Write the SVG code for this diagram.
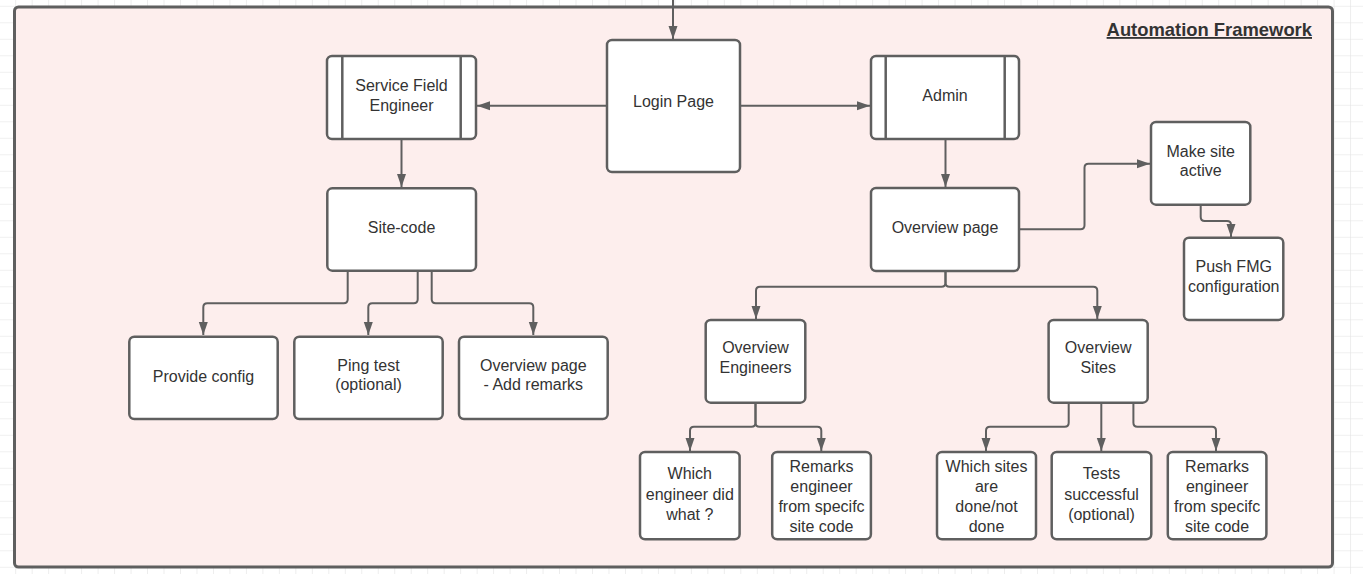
<svg xmlns="http://www.w3.org/2000/svg" width="1363" height="574" viewBox="0 0 1363 574">
<defs>
<pattern id="grid" patternUnits="userSpaceOnUse" x="15.2" y="5.8" width="16.48" height="16.5">
<path d="M0,0 V16.5 M0,0 H16.48" fill="none" stroke="#e2e2e2" stroke-width="1.2"/>
</pattern>
<marker id="ah" markerUnits="userSpaceOnUse" markerWidth="14" markerHeight="10" refX="13" refY="5" orient="auto">
<path d="M0,0.5 L13,5 L0,9.5 z" fill="#5f5f5f"/>
</marker>
<style>
.node{fill:#ffffff;stroke:#5f5f5f;stroke-width:2.5}
.bar{stroke:#5f5f5f;stroke-width:2.5}
.lbl{font-family:"Liberation Sans",Arial,sans-serif;font-size:16px;fill:#333333;text-anchor:middle}
.con{fill:none;stroke:#5f5f5f;stroke-width:2;marker-end:url(#ah)}
</style>
</defs>
<rect width="1363" height="574" fill="#ffffff"/>
<rect width="1363" height="574" fill="url(#grid)"/>
<g id="frame">
<rect x="14.5" y="7" width="1318" height="560" rx="4" fill="#fdeeed" stroke="#5f5f5f" stroke-width="3"/>
<text x="1312" y="36" font-family="'Liberation Sans',Arial,sans-serif" font-size="18.4" font-weight="bold" fill="#333333" text-anchor="end" text-decoration="underline">Automation Framework</text>
</g>
<g id="connectors">
<path class="con" d="M673,0 V39"/>
<path class="con" d="M607,105.7 H477"/>
<path class="con" d="M740,105.7 H870"/>
<path class="con" d="M401.5,139 V187"/>
<path class="con" d="M945.5,139 V187"/>
<path class="con" d="M1019,229.3 H1080.5 Q1084.5,229.3 1084.5,225.3 V167.7 Q1084.5,163.7 1088.5,163.7 H1150"/>
<path class="con" d="M1200.7,205 V217 Q1200.7,221 1204.7,221 H1227 Q1231,221 1231,225 V237"/>
<path class="con" d="M945.5,271 V282.7 Q945.5,286.7 941.5,286.7 H760 Q756,286.7 756,290.7 V319"/>
<path class="con" d="M945.5,271 V282.7 Q945.5,286.7 949.5,286.7 H1093.3 Q1097.3,286.7 1097.3,290.7 V319"/>
<path class="con" d="M347.7,271 V299.3 Q347.7,303.3 343.7,303.3 H207.3 Q203.3,303.3 203.3,307.3 V335"/>
<path class="con" d="M417.7,271 V299.3 Q417.7,303.3 413.7,303.3 H372.3 Q368.3,303.3 368.3,307.3 V335"/>
<path class="con" d="M431.7,271 V299.3 Q431.7,303.3 435.7,303.3 H529.3 Q533.3,303.3 533.3,307.3 V335"/>
<path class="con" d="M755.5,403 V422.7 Q755.5,426.7 751.5,426.7 H694 Q690,426.7 690,430.7 V451"/>
<path class="con" d="M755.5,403 V422.7 Q755.5,426.7 759.5,426.7 H817.3 Q821.3,426.7 821.3,430.7 V451"/>
<path class="con" d="M1068.7,403 V422.7 Q1068.7,426.7 1064.7,426.7 H990 Q986,426.7 986,430.7 V451"/>
<path class="con" d="M1101.3,403 V451"/>
<path class="con" d="M1133.4,403 V422.7 Q1133.4,426.7 1137.4,426.7 H1212 Q1216,426.7 1216,430.7 V451"/>
</g>
<g id="login">
<rect class="node" x="607" y="40" width="133" height="132" rx="5"/>
<text class="lbl" x="673.5" y="107.2">Login Page</text>
</g>
<g id="sfe">
<rect class="node" x="327" y="56" width="149" height="83" rx="5"/>
<line class="bar" x1="342.3" y1="56" x2="342.3" y2="139"/>
<line class="bar" x1="460.7" y1="56" x2="460.7" y2="139"/>
<text class="lbl" x="401.5" y="91.2">Service Field</text>
<text class="lbl" x="401.5" y="111.2">Engineer</text>
</g>
<g id="admin">
<rect class="node" x="871" y="56" width="148" height="83" rx="5"/>
<line class="bar" x1="885.7" y1="56" x2="885.7" y2="139"/>
<line class="bar" x1="1004.7" y1="56" x2="1004.7" y2="139"/>
<text class="lbl" x="945" y="101.2">Admin</text>
</g>
<g id="sitecode">
<rect class="node" x="327.3" y="188.3" width="148.7" height="82.4" rx="5"/>
<text class="lbl" x="401.5" y="233.2">Site-code</text>
</g>
<g id="overview">
<rect class="node" x="871" y="188" width="148" height="83" rx="5"/>
<text class="lbl" x="945" y="233.2">Overview page</text>
</g>
<g id="makeactive">
<rect class="node" x="1151" y="122" width="99.3" height="82.7" rx="5"/>
<text class="lbl" x="1200.7" y="156.5">Make site</text>
<text class="lbl" x="1200.7" y="176">active</text>
</g>
<g id="pushfmg">
<rect class="node" x="1184" y="237.7" width="99.3" height="82.3" rx="5"/>
<text class="lbl" x="1233.7" y="272.2">Push FMG</text>
<text class="lbl" x="1233.7" y="292.2">configuration</text>
</g>
<g id="provide">
<rect class="node" x="129.3" y="336.7" width="148.4" height="82.3" rx="5"/>
<text class="lbl" x="203.5" y="382.2">Provide config</text>
</g>
<g id="ping">
<rect class="node" x="294.3" y="336.7" width="148.4" height="82.3" rx="5"/>
<text class="lbl" x="368.5" y="370.5">Ping test</text>
<text class="lbl" x="368.5" y="390">(optional)</text>
</g>
<g id="ovremarks">
<rect class="node" x="459" y="336.7" width="148.7" height="82.3" rx="5"/>
<text class="lbl" x="533.3" y="370.5">Overview page</text>
<text class="lbl" x="533.3" y="390">- Add remarks</text>
</g>
<g id="ovengineers">
<rect class="node" x="705.7" y="320" width="99.6" height="82.7" rx="5"/>
<text class="lbl" x="755.5" y="352.5">Overview</text>
<text class="lbl" x="755.5" y="372.5">Engineers</text>
</g>
<g id="ovsites">
<rect class="node" x="1048.6" y="320" width="99.1" height="82.7" rx="5"/>
<text class="lbl" x="1098.2" y="352.5">Overview</text>
<text class="lbl" x="1098.2" y="372.5">Sites</text>
</g>
<g id="whicheng">
<rect class="node" x="640" y="452" width="99.6" height="87.3" rx="5"/>
<text class="lbl" x="689.8" y="479">Which</text>
<text class="lbl" x="689.8" y="499.5">engineer did</text>
<text class="lbl" x="689.8" y="520">what ?</text>
</g>
<g id="remarksleft">
<rect class="node" x="772.2" y="452" width="98.7" height="87.3" rx="5"/>
<text class="lbl" x="821.5" y="471.5">Remarks</text>
<text class="lbl" x="821.5" y="491.5">engineer</text>
<text class="lbl" x="821.5" y="511.5">from specifc</text>
<text class="lbl" x="821.5" y="531.5">site code</text>
</g>
<g id="whichsites">
<rect class="node" x="937" y="452" width="99" height="87.3" rx="5"/>
<text class="lbl" x="986.5" y="471.5">Which sites</text>
<text class="lbl" x="986.5" y="491.5">are</text>
<text class="lbl" x="986.5" y="511.5">done/not</text>
<text class="lbl" x="986.5" y="531.5">done</text>
</g>
<g id="tests">
<rect class="node" x="1051.7" y="452" width="99.6" height="87.3" rx="5"/>
<text class="lbl" x="1101.5" y="479">Tests</text>
<text class="lbl" x="1101.5" y="499.5">successful</text>
<text class="lbl" x="1101.5" y="520">(optional)</text>
</g>
<g id="remarksright">
<rect class="node" x="1167.8" y="452" width="98.6" height="87.3" rx="5"/>
<text class="lbl" x="1217.1" y="471.5">Remarks</text>
<text class="lbl" x="1217.1" y="491.5">engineer</text>
<text class="lbl" x="1217.1" y="511.5">from specifc</text>
<text class="lbl" x="1217.1" y="531.5">site code</text>
</g>
</svg>
